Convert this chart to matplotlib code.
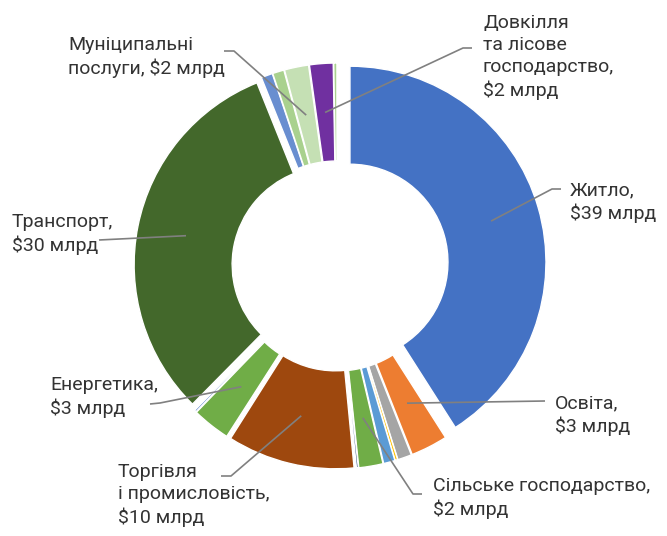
#!/usr/bin/env python3
# -*- coding: utf-8 -*-
"""Donut chart: infrastructure needs by sector (Ukrainian labels)."""
import math

import matplotlib
matplotlib.use("Agg")
import matplotlib.pyplot as plt

W, H = 667, 536  # output size in px; axes use pixel coords (y down)

# --- data (clockwise from 12 o'clock), $ bn ---
sectors = ["Житло", "Освіта", "s3", "s4", "s5", "Сільське господарство", "s7",
           "Торгівля і промисловість", "s9", "Енергетика", "s11", "Транспорт",
           "s13", "s14", "Муніципальні послуги", "Довкілля", "s17"]
values = [39, 2.9, 1.1, 0.2, 0.9, 1.9, 0.15,
          10, 0.1, 3, 0.15, 30,
          0.9, 0.9, 1.9, 1.85, 0.25]
colors = ["#4472C4", "#ED7D31", "#A5A5A5", "#FFC000", "#5B9BD5", "#70AD47", "#264478",
          "#9E480E", "#7F7F7F", "#70AD47", "#4472C4", "#43682B",
          "#698ED0", "#A9D18E", "#C5E0B4", "#7030A0", "#A9D18E"]
explode_px = [13.5, 7, 7, 7, 7, 7, 7,
              7, 7, 7, 7, 7,
              7, 7, 7, 7, 7]

# labelled slices: index -> text, text anchor (left x, centre y), leader elbow, leader end
labels = {
    0: ("Житло,\n$39 млрд", (570, 202), (552, 189), (561, 189)),
    1: ("Освіта,\n$3 млрд", (555, 415), (545, 401), (545, 401)),
    5: ("Сільське господарство,\n$2 млрд", (433, 498), (413, 494), (422, 494)),
    7: ("Торгівля\nі промисловість,\n$10 млрд", (118, 495), (231, 476), (221, 476)),
    9: ("Енергетика,\n$3 млрд", (50, 397), (160, 403), (150, 404)),
    11: ("Транспорт,\n$30 млрд", (12, 234), (99, 240), (99, 240)),
    14: ("Муніципальні\nпослуги, $2 млрд", (68, 57), (234, 51), (224, 51)),
    15: ("Довкілля\nта лісове\nгосподарство,\n$2 млрд", (483, 57), (463, 48), (472, 48)),
}

CENTER = (337, 266)
R_OUT, RING = 196, 98


def main():
    plt.rcParams["font.family"] = ["Roboto", "DejaVu Sans"]
    fig = plt.figure(figsize=(W / 100, H / 100), dpi=100)
    ax = fig.add_axes([0, 0, 1, 1])

    # y axis is inverted below, so counterclock in data == clockwise on screen
    wedges, _ = ax.pie(values, colors=colors, explode=explode_px, startangle=-90,
                       counterclock=True, radius=R_OUT, center=CENTER,
                       wedgeprops=dict(width=RING, edgecolor="white", linewidth=1.0))
    ax.set_xlim(0, W)
    ax.set_ylim(H, 0)
    ax.set_aspect("equal")
    ax.axis("off")

    for i, (txt, (tx, ty), elbow, end) in labels.items():
        w = wedges[i]
        th = math.radians(0.5 * (w.theta1 + w.theta2))
        rm = w.r - w.width / 2
        sx = w.center[0] + rm * math.cos(th)
        sy = w.center[1] + rm * math.sin(th)
        ax.plot([sx, elbow[0], end[0]], [sy, elbow[1], end[1]],
                color="#808080", lw=1.2, solid_capstyle="butt")
        ax.text(tx, ty, txt, ha="left", va="center", fontsize=14,
                color="#333333", linespacing=1.28)

    fig.savefig("out.png", dpi=100)
    plt.close(fig)


if __name__ == "__main__":
    main()
